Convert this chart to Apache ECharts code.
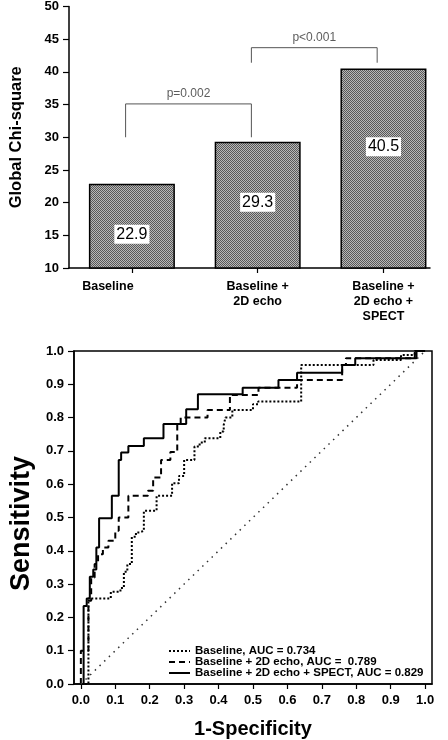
<!DOCTYPE html>
<html>
<head>
<meta charset="utf-8">
<script src="https://cdn.jsdelivr.net/npm/echarts@6/dist/echarts.min.js"></script>
<style>
html,body{margin:0;padding:0;background:#fff;}
#chart{width:448px;height:740px;}
</style>
</head>
<body>
<div id="chart"></div>
<script>
// ---------- DATA ----------
const barCategories = ['Baseline', 'Baseline +\n2D echo', 'Baseline +\n2D echo +\nSPECT'];
const chiSquare = [22.9, 29.3, 40.5];
const chiTicks = [10, 50, 5]; // min, max, step

const pLabels = ['p=0.002', 'p<0.001'];
const pFrom = [0, 1];
const pTo = [1, 2];
const pBase = [30, 41.4];
const pTop = [35.1, 43.7];

const rocTicks = [0, 0.1, 0.2, 0.3, 0.4, 0.5, 0.6, 0.7, 0.8, 0.9, 1.0];
const seriesNames = ['Baseline, AUC = 0.734', 'Baseline + 2D echo, AUC =  0.789', 'Baseline + 2D echo + SPECT, AUC = 0.829'];

const fprBaseline = [0, 0.022, 0.078, 0.087, 0.115, 0.125, 0.135, 0.148, 0.16, 0.17, 0.183, 0.22, 0.265, 0.285, 0.30, 0.33, 0.345, 0.36, 0.405, 0.415, 0.42, 0.44, 0.50, 0.515, 0.64, 0.85, 0.93, 0.97, 1.0];
const tprBaseline = [0, 0.257, 0.257, 0.277, 0.288, 0.337, 0.36, 0.442, 0.455, 0.46, 0.52, 0.565, 0.603, 0.625, 0.673, 0.713, 0.725, 0.738, 0.758, 0.778, 0.80, 0.823, 0.84, 0.848, 0.958, 0.973, 0.988, 1.0, 1.0];

const fprEcho = [0, 0.0, 0.022, 0.03, 0.04, 0.05, 0.064, 0.08, 0.10, 0.11, 0.138, 0.195, 0.21, 0.233, 0.26, 0.28, 0.29, 0.368, 0.433, 0.516, 0.628, 0.759, 0.77, 0.97, 1.0];
const tprEcho = [0, 0.10, 0.25, 0.32, 0.36, 0.39, 0.41, 0.43, 0.46, 0.50, 0.565, 0.58, 0.62, 0.673, 0.697, 0.783, 0.80, 0.823, 0.868, 0.89, 0.913, 0.958, 0.978, 1.0, 1.0];

const fprSpect = [0, 0.008, 0.017, 0.026, 0.036, 0.045, 0.053, 0.09, 0.11, 0.117, 0.138, 0.183, 0.24, 0.306, 0.34, 0.47, 0.574, 0.628, 0.759, 0.797, 0.975, 1.0];
const tprSpect = [0, 0.234, 0.257, 0.322, 0.344, 0.41, 0.498, 0.565, 0.673, 0.695, 0.715, 0.738, 0.781, 0.825, 0.87, 0.89, 0.913, 0.935, 0.958, 0.978, 1.0, 1.0];

const refLine = [[0, 0], [1, 1]];

// ---------- STYLE ----------
const FONT = 'Liberation Sans, Arial, Helvetica, sans-serif';
const labelShift = [8, -3, -22];
const bracketShift = -0.05;
const catIdx = barCategories.map((c, i) => i);

function makePattern() {
  const c = document.createElement('canvas');
  c.width = 2; c.height = 2;
  const g = c.getContext('2d');
  g.fillStyle = '#b8b8b8'; g.fillRect(0, 0, 2, 2);
  g.fillStyle = '#585858'; g.fillRect(0, 0, 1, 1); g.fillRect(1, 1, 1, 1);
  return c;
}

const zip = (a, b) => a.map((v, i) => [v, b[i]]);

const bracketSeries = pLabels.map((lab, i) => {
  const x0 = pFrom[i] + bracketShift, x1 = pTo[i] + bracketShift;
  return {
    type: 'line', xAxisIndex: 0, yAxisIndex: 0, silent: true, symbol: 'none',
    lineStyle: { color: '#555', width: 1 },
    data: [[x0, pBase[i]], [x0, pTop[i]], [x1, pTop[i]], [x1, pBase[i]]],
    z: 5
  };
});
const pTextSeries = {
  type: 'scatter', xAxisIndex: 0, yAxisIndex: 0, silent: true, symbolSize: 0,
  data: pLabels.map((lab, i) => ({ value: [(pFrom[i] + pTo[i]) / 2 + bracketShift, pTop[i]], name: lab })),
  label: { show: true, position: 'top', distance: 4, formatter: p => p.name, color: '#333', fontSize: 12, fontFamily: FONT }
};

const chart = echarts.init(document.getElementById('chart'), null, { renderer: 'canvas' });
const option = {
  animation: false,
  backgroundColor: '#fff',
  textStyle: { fontFamily: FONT },
  grid: [
    { left: 61, right: 18, top: 6, bottom: 472 },
    { left: 62, right: 16, top: 351, bottom: 56, show: true, borderColor: '#000', borderWidth: 1.5, backgroundColor: 'transparent' }
  ],
  xAxis: [
    { gridIndex: 0, type: 'value', min: -0.5, max: 2.37,
      axisLine: { onZero: false, lineStyle: { color: '#000', width: 1.5 } },
      axisTick: { customValues: catIdx, length: 5, lineStyle: { color: '#000', width: 1.2 } },
      splitLine: { show: false },
      axisLabel: { customValues: catIdx, color: '#000', fontWeight: 'bold', fontSize: 12.5, lineHeight: 15, margin: 11, fontFamily: FONT,
        formatter: v => v === 0 ? '{off|' + barCategories[v] + '}' : barCategories[v],
        rich: { off: { padding: [0, 48, 0, 0], fontWeight: 'bold', fontSize: 12.5, fontFamily: FONT, color: '#000' } } }
    },
    { gridIndex: 1, type: 'value', min: -0.02, max: 1.02,
      name: '1-Specificity', nameLocation: 'middle', nameGap: 35,
      nameTextStyle: { fontSize: 20, fontWeight: 'bold', color: '#000', fontFamily: FONT },
      axisLine: { onZero: false, lineStyle: { color: '#000', width: 1.5 } },
      axisTick: { customValues: rocTicks, length: 5, lineStyle: { color: '#000', width: 1.2 } },
      axisLabel: { customValues: rocTicks, formatter: v => v.toFixed(1), color: '#000', fontWeight: 'bold', fontSize: 13, margin: 10, fontFamily: FONT },
      splitLine: { show: false }
    }
  ],
  yAxis: [
    { gridIndex: 0, type: 'value', min: chiTicks[0], max: chiTicks[1], interval: chiTicks[2],
      name: 'Global Chi-square', nameLocation: 'middle', nameGap: 44,
      nameTextStyle: { fontSize: 16.5, fontWeight: 'bold', color: '#000', fontFamily: FONT },
      axisLine: { show: true, onZero: false, lineStyle: { color: '#000', width: 1.5 } },
      axisTick: { show: true, length: 6, lineStyle: { color: '#000', width: 1.2 } },
      axisLabel: { color: '#000', fontWeight: 'bold', fontSize: 13, margin: 10, fontFamily: FONT },
      splitLine: { show: false }
    },
    { gridIndex: 1, type: 'value', min: 0, max: 1, interval: 0.1,
      name: 'Sensitivity', nameLocation: 'middle', nameGap: 27,
      nameTextStyle: { fontSize: 27, fontWeight: 'bold', color: '#000', fontFamily: FONT, padding: [0, 12, 0, 0] },
      axisLine: { show: true, onZero: false, lineStyle: { color: '#000', width: 1.5 } },
      axisTick: { show: true, length: 6, lineStyle: { color: '#000', width: 1.2 } },
      axisLabel: { formatter: v => v.toFixed(1), color: '#000', fontWeight: 'bold', fontSize: 13, margin: 10, fontFamily: FONT },
      splitLine: { show: false }
    }
  ],
  legend: {
    data: seriesNames, orient: 'vertical', left: 163, top: 640,
    itemWidth: 21, itemHeight: 10, itemGap: -1,
    itemStyle: { color: 'rgba(0,0,0,0)', borderColor: 'rgba(0,0,0,0)', borderWidth: 0, opacity: 0 },
    textStyle: { fontSize: 11.5, fontWeight: 'bold', color: '#000', lineHeight: 12, fontFamily: FONT },
    selectedMode: false
  },
  series: [
    { type: 'bar', xAxisIndex: 0, yAxisIndex: 0, barWidth: 86,
      data: chiSquare.map((v, i) => ({ value: [i, v], label: { offset: [0, labelShift[i]] } })),
      itemStyle: { color: { image: makePattern(), repeat: 'repeat' }, borderColor: '#000', borderWidth: 1.5 },
      label: { show: true, position: 'inside', formatter: p => p.value[1], color: '#000', fontSize: 16, fontFamily: FONT,
        backgroundColor: '#fff', padding: [2, 2, 1, 2] }
    },
    ...bracketSeries,
    pTextSeries,
    { name: seriesNames[0], type: 'line', xAxisIndex: 1, yAxisIndex: 1, step: 'end', symbol: 'none',
      data: zip(fprBaseline, tprBaseline), lineStyle: { color: '#000', width: 2, type: [2, 2] }, itemStyle: { color: '#000' } },
    { name: seriesNames[1], type: 'line', xAxisIndex: 1, yAxisIndex: 1, step: 'end', symbol: 'none',
      data: zip(fprEcho, tprEcho), lineStyle: { color: '#000', width: 2, type: [6, 4] }, itemStyle: { color: '#000' } },
    { name: seriesNames[2], type: 'line', xAxisIndex: 1, yAxisIndex: 1, step: 'end', symbol: 'none',
      data: zip(fprSpect, tprSpect), lineStyle: { color: '#000', width: 2, type: 'solid' }, itemStyle: { color: '#000' } },
    { type: 'line', xAxisIndex: 1, yAxisIndex: 1, symbol: 'none', silent: true,
      data: refLine, lineStyle: { color: '#333', width: 1.5, type: [1.5, 5] } }
  ]
};
chart.setOption(option);
</script>
</body>
</html>
